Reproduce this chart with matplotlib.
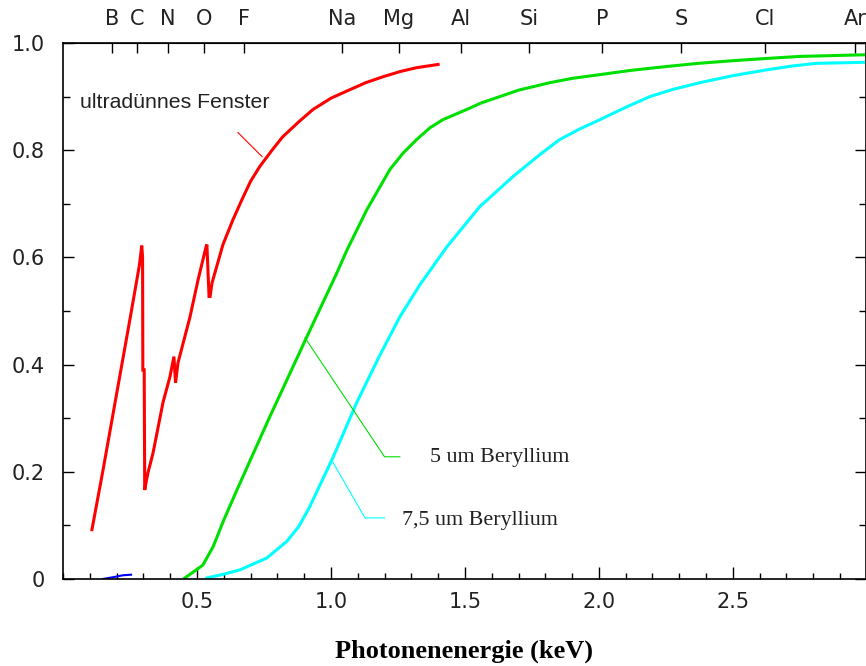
import matplotlib
matplotlib.use("Agg")
import matplotlib.pyplot as plt
from matplotlib.ticker import MultipleLocator, FixedLocator

# --- DATEN ---
# ultraduennes Fenster
red_x = [0.108, 0.15, 0.20, 0.25, 0.285, 0.294, 0.297, 0.298, 0.303, 0.305, 0.31, 0.317,
         0.336, 0.373, 0.399, 0.414, 0.42, 0.429, 0.474, 0.504, 0.534, 0.537, 0.545, 0.549,
         0.556, 0.597, 0.634, 0.668, 0.70, 0.735, 0.78, 0.82, 0.88, 0.933, 1.0, 1.071,
         1.13, 1.194, 1.26, 1.32, 1.40]
red_y = [0.092, 0.205, 0.345, 0.485, 0.585, 0.622, 0.60, 0.39, 0.39, 0.166, 0.18, 0.198,
         0.235, 0.329, 0.377, 0.415, 0.366, 0.403, 0.489, 0.558, 0.62, 0.624, 0.527, 0.527,
         0.552, 0.624, 0.67, 0.708, 0.742, 0.77, 0.80, 0.825, 0.853, 0.876, 0.897, 0.913,
         0.926, 0.937, 0.947, 0.954, 0.96]

# 5 um Beryllium
green_x = [0.455, 0.50, 0.522, 0.56, 0.60, 0.649, 0.772, 0.914, 1.022, 1.06, 1.134, 1.22,
           1.27, 1.32, 1.37, 1.418, 1.507, 1.56, 1.63, 1.70, 1.817, 1.90, 2.004, 2.12, 2.25,
           2.37, 2.5, 2.62, 2.75, 2.99]
green_y = [0.002, 0.018, 0.026, 0.06, 0.11, 0.166, 0.303, 0.456, 0.571, 0.614, 0.689, 0.764,
           0.795, 0.82, 0.842, 0.857, 0.876, 0.888, 0.90, 0.912, 0.926, 0.934, 0.941, 0.949,
           0.956, 0.962, 0.967, 0.971, 0.975, 0.978]

# 7,5 um Beryllium
cyan_x = [0.537, 0.60, 0.66, 0.76, 0.835, 0.88, 0.92, 1.007, 1.096, 1.18, 1.257, 1.332,
          1.433, 1.556, 1.68, 1.78, 1.854, 1.93, 2.004, 2.10, 2.19, 2.28, 2.377, 2.50,
          2.627, 2.72, 2.81, 2.99]
cyan_y = [0.002, 0.009, 0.017, 0.039, 0.07, 0.098, 0.134, 0.226, 0.329, 0.415, 0.489, 0.549,
          0.62, 0.695, 0.751, 0.792, 0.82, 0.84, 0.857, 0.88, 0.90, 0.914, 0.926, 0.939,
          0.95, 0.957, 0.962, 0.964]

# kleines blaues Stueck nahe Null
blue_x = [0.149, 0.194, 0.224, 0.254]
blue_y = [0.0, 0.004, 0.007, 0.008]

# Elementkanten (K-alpha, keV)
elem_names = ["B", "C", "N", "O", "F", "Na", "Mg", "Al", "Si", "P", "S", "Cl", "Ar"]
elem_energy = [0.183, 0.277, 0.392, 0.525, 0.677, 1.041, 1.253, 1.486, 1.739, 2.013, 2.307, 2.621, 2.957]

x_major = [0.5, 1.0, 1.5, 2.0, 2.5]
x_labels = ["0.5", "1.0", "1.5", "2.0", "2.5"]
y_major = [0.0, 0.2, 0.4, 0.6, 0.8, 1.0]
y_labels = ["0", "0.2", "0.4", "0.6", "0.8", "1.0"]

tick_font = "DejaVu Sans"

fig = plt.figure(figsize=(8.66, 6.66), dpi=100)
ax = fig.add_axes([63 / 866, 1 - 579 / 666, (865.5 - 63) / 866, (579 - 43) / 666])

ax.plot(red_x, red_y, color="#ff0000", linewidth=2.2, solid_joinstyle="miter")
ax.plot(green_x, green_y, color="#00e000", linewidth=2.2)
ax.plot(cyan_x, cyan_y, color="#00ffff", linewidth=2.2)
ax.plot(blue_x, blue_y, color="#0000ff", linewidth=1.5)

# Beschriftungen mit Hinweislinien
ax.plot([0.653, 0.743], [0.833, 0.788], color="#ff0000", linewidth=0.8)
ax.text(0.063, 0.889, "ultradünnes Fenster", fontsize=15.3, family="Liberation Sans",
        va="center", ha="left", color="#222222")

ax.plot([0.903, 1.20, 1.257], [0.450, 0.228, 0.228], color="#00e000", linewidth=0.8)
ax.text(1.37, 0.226, "5 um Beryllium", fontsize=15.8, family="Liberation Serif",
        va="center", ha="left", color="#222222")

ax.plot([1.007, 1.127, 1.2], [0.218, 0.114, 0.114], color="#00ffff", linewidth=0.8)
ax.text(1.265, 0.110, "7,5 um Beryllium", fontsize=15.8, family="Liberation Serif",
        va="center", ha="left", color="#222222")

ax.set_xlim(0, 2.995)
ax.set_ylim(0, 1.0)

ax.xaxis.set_major_locator(FixedLocator(x_major))
ax.set_xticklabels(x_labels)
ax.xaxis.set_minor_locator(MultipleLocator(0.1))
ax.yaxis.set_major_locator(FixedLocator(y_major))
ax.set_yticklabels(y_labels)
ax.yaxis.set_minor_locator(MultipleLocator(0.1))

ax.tick_params(axis="both", which="both", direction="in", width=1, colors="black")
ax.tick_params(axis="x", which="major", length=9, pad=9, labelsize=15, top=False)
ax.tick_params(axis="x", which="minor", length=4, top=False)
ax.tick_params(axis="y", which="major", length=8, pad=13, labelsize=15, right=True)
ax.tick_params(axis="y", which="minor", length=5, right=True)
for lbl in ax.get_xticklabels() + ax.get_yticklabels():
    lbl.set_family(tick_font)
    lbl.set_color("#222222")

for s in ax.spines.values():
    s.set_linewidth(1.2)

# obere Achse mit Elementen
top = ax.secondary_xaxis("top")
top.set_xticks(elem_energy)
top.set_xticklabels(elem_names)
top.tick_params(direction="in", length=7, width=1, pad=10, labelsize=15)
for lbl in top.get_xticklabels():
    lbl.set_family(tick_font)
    lbl.set_color("#222222")

ax.set_xlabel("Photonenenergie (keV)", fontsize=19, fontweight="bold",
              family="Liberation Serif", labelpad=20)

fig.savefig("out.png", dpi=100)
